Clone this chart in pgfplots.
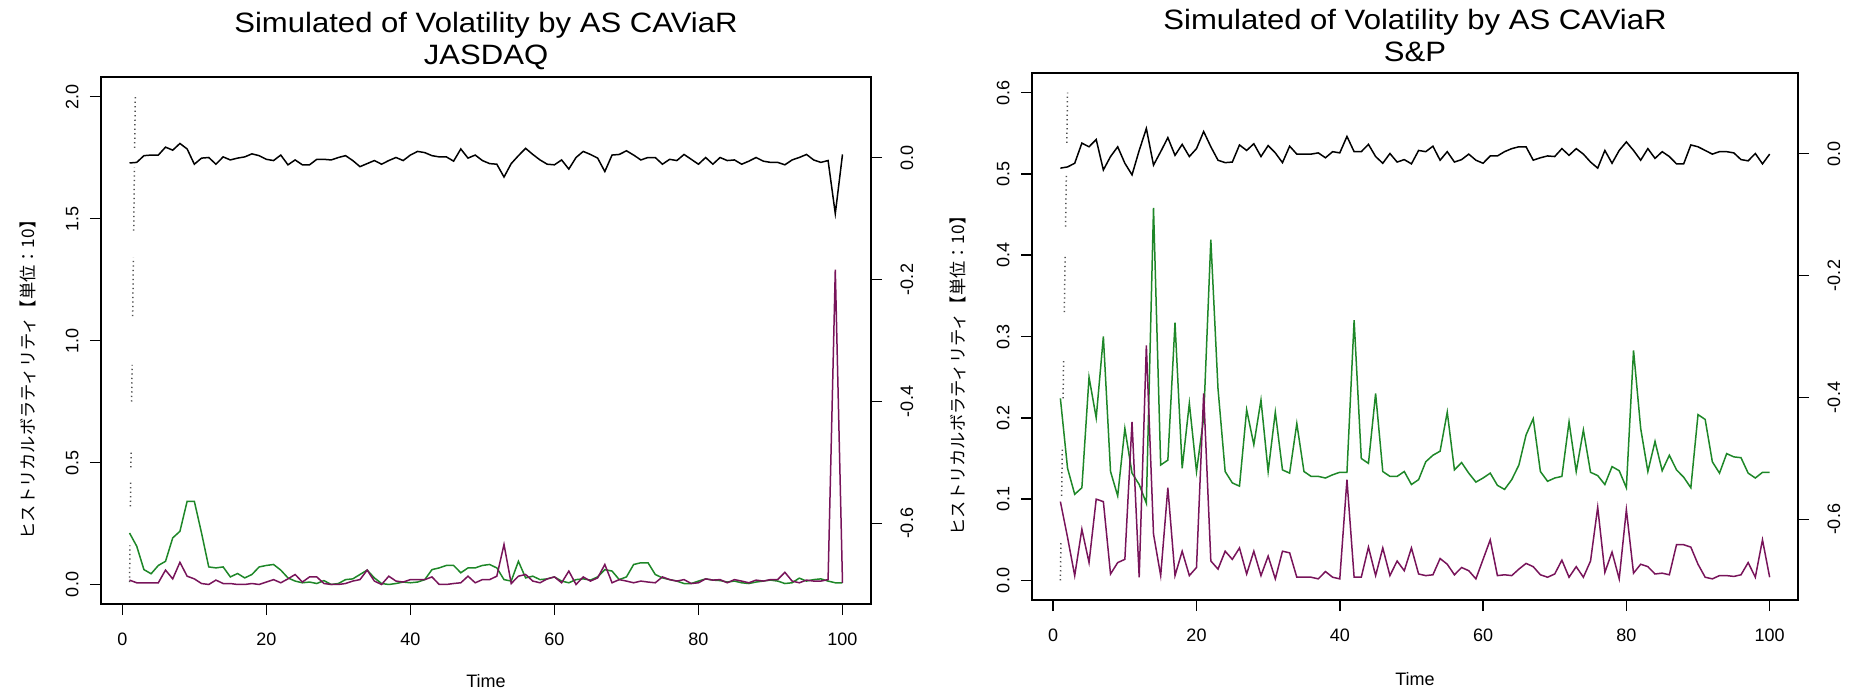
\documentclass[border=0pt]{standalone}
\usepackage{fontspec}
\setmainfont{Liberation Sans}
\newfontfamily\titlefont[FakeStretch=1.11]{Liberation Sans}
\newfontfamily\jpfont{Noto Sans CJK JP}
\usepackage{pgfplots}
\usepackage{pgfplotstable}
\pgfplotsset{compat=1.18}

\definecolor{rgreen}{RGB}{30,135,40}
\definecolor{rpurple}{RGB}{120,20,90}
\definecolor{rdots}{RGB}{80,80,80}

\pgfplotsset{
  rbase/.style={
    scale only axis, height=210.8pt,
    xmin=-2.96, xmax=103.96,
    tick align=outside, major tick length=4.4pt,
    axis line style={line width=0.6pt},
    every tick/.style={black, line width=0.6pt},
    tick label style={font=\fontsize{7.2}{8}\selectfont, inner sep=0pt},
  },
  rleft/.style={
    rbase, xtick pos=bottom, ytick pos=left,
    xtick={0,20,...,100}, xticklabels={0,20,40,60,80,100},
    xticklabel style={anchor=north, yshift=-6.9pt},
    yticklabel style={xshift=-4.4pt, rotate=90, anchor=south},
  },
  rright/.style={
    rbase, hide x axis, axis y line*=right, ytick pos=right,
    ymin=-0.732, ymax=0.132,
    ytick={-0.6,-0.4,-0.2,0}, yticklabels={-0.6,-0.4,-0.2,0.0},
    yticklabel style={xshift=7.2pt, rotate=90, anchor=north},
  },
  gline/.style={rgreen, line width=0.6pt},
  pline/.style={rpurple, line width=0.6pt},
  kline/.style={black, line width=0.6pt},
  dline/.style={rdots, line width=0.6pt, dash pattern=on 0.5pt off 1.3pt, unbounded coords=jump},
}

% JASDAQ: blk = right axis, grn / pur = left axis
\pgfplotstableread{
t blk grn pur
1 -0.009 0.211 0.018
2 -0.008 0.157 0.007
3 0.003 0.061 0.007
4 0.004 0.044 0.007
5 0.004 0.078 0.007
6 0.017 0.095 0.059
7 0.012 0.191 0.023
8 0.023 0.218 0.091
9 0.014 0.341 0.034
10 -0.011 0.341 0.023
11 -0.001 0.211 0.004
12 0.000 0.072 0.000
13 -0.011 0.068 0.018
14 0.001 0.072 0.004
15 -0.004 0.031 0.004
16 -0.001 0.045 0.000
17 0.001 0.027 0.000
18 0.006 0.041 0.004
19 0.003 0.072 0.000
20 -0.003 0.078 0.010
21 -0.005 0.082 0.020
22 0.004 0.059 0.007
23 -0.012 0.027 0.023
24 -0.004 0.014 0.041
25 -0.012 0.007 0.010
26 -0.012 0.010 0.031
27 -0.003 0.004 0.031
28 -0.003 0.016 0.004
29 -0.004 0.000 0.000
30 0.000 0.004 0.000
31 0.003 0.020 0.004
32 -0.005 0.023 0.014
33 -0.015 0.041 0.020
34 -0.010 0.059 0.059
35 -0.005 0.027 0.014
36 -0.011 0.004 0.000
37 -0.005 0.000 0.034
38 0.000 0.004 0.014
39 -0.005 0.010 0.010
40 0.004 0.007 0.020
41 0.010 0.010 0.020
42 0.008 0.020 0.020
43 0.003 0.061 0.031
44 0.001 0.068 0.000
45 0.001 0.078 0.000
46 -0.006 0.078 0.004
47 0.014 0.048 0.007
48 -0.001 0.068 0.034
49 0.004 0.068 0.007
50 -0.005 0.078 0.020
51 -0.010 0.082 0.020
52 -0.011 0.068 0.034
53 -0.032 0.020 0.164
54 -0.010 0.014 0.004
55 0.003 0.095 0.034
56 0.015 0.027 0.041
57 0.005 0.034 0.014
58 -0.004 0.020 0.007
59 -0.011 0.023 0.023
60 -0.012 0.031 0.031
61 -0.004 0.014 0.007
62 -0.019 0.007 0.055
63 0.000 0.020 0.000
64 0.010 0.023 0.031
65 0.005 0.018 0.014
66 -0.001 0.031 0.027
67 -0.023 0.061 0.082
68 0.004 0.055 0.007
69 0.005 0.020 0.020
70 0.011 0.031 0.014
71 0.004 0.082 0.007
72 -0.004 0.089 0.014
73 0.000 0.089 0.010
74 0.000 0.041 0.007
75 -0.011 0.027 0.031
76 -0.003 0.020 0.020
77 -0.005 0.014 0.014
78 0.005 0.004 0.020
79 -0.003 0.004 0.004
80 -0.011 0.014 0.007
81 0.000 0.023 0.023
82 -0.011 0.018 0.018
83 0.000 0.016 0.020
84 -0.005 0.010 0.007
85 -0.004 0.014 0.020
86 -0.011 0.007 0.014
87 -0.006 0.004 0.007
88 0.000 0.010 0.018
89 -0.006 0.014 0.014
90 -0.008 0.018 0.020
91 -0.008 0.014 0.020
92 -0.012 0.004 0.050
93 -0.004 0.007 0.014
94 0.000 0.026 0.007
95 0.005 0.014 0.018
96 -0.004 0.020 0.014
97 -0.008 0.023 0.014
98 -0.005 0.014 0.020
99 -0.092 0.007 1.290
100 0.005 0.007 0.007
}\jasdaq

% S&P
\pgfplotstableread{
t blk grn pur
1 -0.024 0.224 0.097
2 -0.022 0.138 0.053
3 -0.016 0.106 0.006
4 0.017 0.114 0.063
5 0.011 0.250 0.022
6 0.023 0.200 0.100
7 -0.027 0.300 0.097
8 -0.005 0.134 0.008
9 0.011 0.104 0.022
10 -0.016 0.187 0.026
11 -0.035 0.132 0.195
12 0.005 0.118 0.004
13 0.041 0.095 0.289
14 -0.019 0.458 0.057
15 0.003 0.142 0.006
16 0.026 0.148 0.114
17 -0.003 0.317 0.006
18 0.015 0.138 0.036
19 -0.005 0.218 0.006
20 0.008 0.134 0.016
21 0.036 0.200 0.230
22 0.011 0.419 0.024
23 -0.011 0.236 0.014
24 -0.015 0.134 0.036
25 -0.014 0.120 0.026
26 0.014 0.116 0.040
27 0.005 0.210 0.008
28 0.016 0.167 0.036
29 -0.005 0.222 0.006
30 0.013 0.134 0.030
31 0.001 0.207 0.002
32 -0.015 0.136 0.036
33 0.012 0.132 0.034
34 -0.001 0.193 0.004
35 -0.001 0.134 0.004
36 -0.001 0.128 0.004
37 0.001 0.128 0.002
38 -0.007 0.126 0.011
39 0.003 0.130 0.004
40 0.001 0.133 0.002
41 0.028 0.133 0.124
42 0.003 0.320 0.004
43 0.003 0.150 0.004
44 0.015 0.144 0.041
45 -0.005 0.230 0.006
46 -0.016 0.134 0.040
47 0.000 0.128 0.006
48 -0.014 0.128 0.024
49 -0.010 0.134 0.012
50 -0.017 0.118 0.040
51 0.005 0.124 0.008
52 0.003 0.146 0.006
53 0.012 0.154 0.007
54 -0.011 0.159 0.027
55 0.003 0.207 0.020
56 -0.014 0.136 0.007
57 -0.010 0.145 0.016
58 -0.001 0.132 0.012
59 -0.011 0.121 0.002
60 -0.016 0.126 0.026
61 -0.004 0.132 0.050
62 -0.004 0.117 0.006
63 0.003 0.112 0.007
64 0.008 0.124 0.006
65 0.011 0.142 0.014
66 0.011 0.179 0.021
67 -0.011 0.199 0.017
68 -0.007 0.134 0.007
69 -0.004 0.122 0.004
70 -0.005 0.126 0.008
71 0.008 0.128 0.025
72 -0.003 0.195 0.004
73 0.008 0.134 0.017
74 -0.001 0.185 0.004
75 -0.014 0.133 0.024
76 -0.024 0.129 0.090
77 0.005 0.118 0.010
78 -0.016 0.140 0.035
79 0.005 0.135 0.002
80 0.019 0.114 0.087
81 0.005 0.283 0.009
82 -0.011 0.187 0.020
83 0.008 0.134 0.017
84 -0.008 0.171 0.008
85 0.003 0.135 0.009
86 -0.005 0.154 0.007
87 -0.017 0.136 0.044
88 -0.017 0.127 0.044
89 0.014 0.114 0.041
90 0.011 0.204 0.020
91 0.005 0.198 0.004
92 -0.001 0.146 0.002
93 0.003 0.132 0.006
94 0.003 0.156 0.006
95 0.001 0.152 0.005
96 -0.010 0.151 0.007
97 -0.012 0.132 0.022
98 0.000 0.126 0.004
99 -0.017 0.133 0.050
100 -0.001 0.133 0.004
}\snp

\begin{document}
\begin{tikzpicture}
\path[use as bounding box] (0pt,0pt) rectangle (740.8pt,276.4pt);

% ---------------- JASDAQ ----------------
\begin{axis}[rleft, at={(40.4pt,34.8pt)}, anchor=south west, width=308pt,
  ymin=-0.08, ymax=2.08,
  ytick={0,0.5,1,1.5,2}, yticklabels={0.0,0.5,1.0,1.5,2.0}]
  \addplot[dline] coordinates {(1.004,0.01)(1.064,0.16)(1.1,nan)(1.128,0.32)(1.168,0.42)(1.18,nan)
    (1.192,0.48)(1.216,0.54)(1.25,nan)(1.30,0.75)(1.36,0.90)(1.4,nan)(1.44,1.10)(1.536,1.34)(1.55,nan)
    (1.58,1.45)(1.684,1.71)(1.7,nan)(1.716,1.79)(1.8,2.0)};
  \addplot[gline] table[x=t, y=grn] {\jasdaq};
  \addplot[pline] table[x=t, y=pur] {\jasdaq};
\end{axis}
\begin{axis}[rright, at={(40.4pt,34.8pt)}, anchor=south west, width=308pt]
  \addplot[kline] table[x=t, y=blk] {\jasdaq};
\end{axis}

% ---------------- S&P ----------------
\begin{axis}[rleft, at={(412.8pt,36.4pt)}, anchor=south west, width=306.4pt,
  ymin=-0.024, ymax=0.624,
  ytick={0,0.1,...,0.6}, yticklabels={0.0,0.1,0.2,0.3,0.4,0.5,0.6}]
  \addplot[dline] coordinates {(1.0,0.0)(1.077,0.046)(1.1,nan)(1.173,0.104)(1.275,0.165)(1.3,nan)
    (1.373,0.224)(1.455,0.273)(1.5,nan)(1.55,0.33)(1.667,0.40)(1.7,nan)(1.725,0.435)(1.833,0.50)(1.85,nan)
    (1.897,0.538)(2.0,0.60)};
  \addplot[gline] table[x=t, y=grn] {\snp};
  \addplot[pline] table[x=t, y=pur] {\snp};
\end{axis}
\begin{axis}[rright, at={(412.8pt,36.4pt)}, anchor=south west, width=306.4pt]
  \addplot[kline] table[x=t, y=blk] {\snp};
\end{axis}

% titles and labels
\begin{scope}[every node/.style={inner sep=0pt}]
\node[anchor=base, font=\titlefont\fontsize{11.2}{13}\selectfont] at (194.4pt,263.2pt) {Simulated of Volatility by AS CAViaR};
\node[anchor=base, font=\titlefont\fontsize{11.2}{13}\selectfont] at (194.4pt,250.4pt) {JASDAQ};
\node[anchor=base, font=\titlefont\fontsize{11.2}{13}\selectfont] at (566pt,264.4pt) {Simulated of Volatility by AS CAViaR};
\node[anchor=base, font=\titlefont\fontsize{11.2}{13}\selectfont] at (566pt,251.6pt) {S\&P};
\node[anchor=base, font=\fontsize{7.2}{8}\selectfont] at (194.4pt,1.4pt) {Time};
\node[anchor=base, font=\fontsize{7.2}{8}\selectfont] at (566pt,2.4pt) {Time};
\node[rotate=90, font=\jpfont\fontsize{6.9}{8}\selectfont] at (11.2pt,126.2pt) {ヒストリカルボラティリティ【単位：10】};
\node[rotate=90, font=\jpfont\fontsize{6.9}{8}\selectfont] at (383.2pt,127.8pt) {ヒストリカルボラティリティ【単位：10】};
\end{scope}
\end{tikzpicture}
\end{document}
